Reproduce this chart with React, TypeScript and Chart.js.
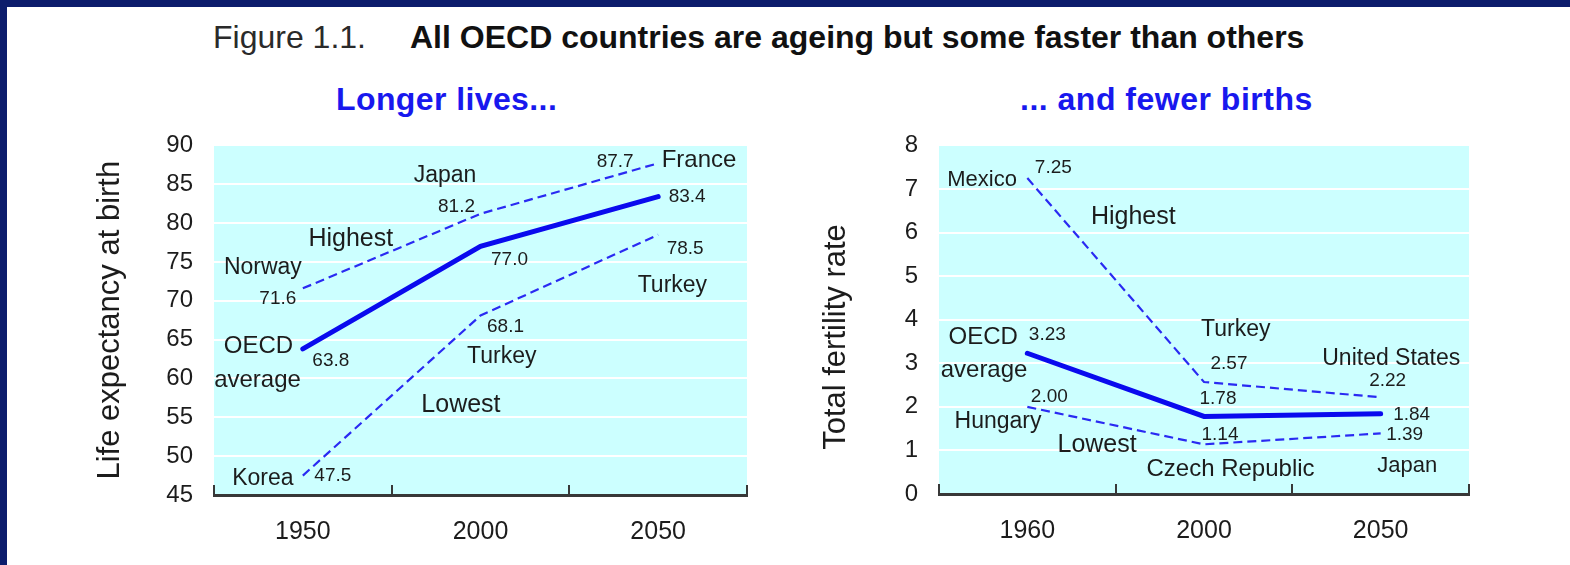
import React, { useEffect, useRef } from "react";
import { Chart, registerables } from "chart.js";

Chart.register(...registerables);

// ---------- data ----------
const lifeYears = ["1950", "2000", "2050"];
const lifeHighest = [71.6, 81.2, 87.7];
const lifeOecd = [63.8, 77.0, 83.4];
const lifeLowest = [47.5, 68.1, 78.5];
const lifeHighestCountries = ["Norway", "Japan", "France"];
const lifeLowestCountries = ["Korea", "Turkey", "Turkey"];
const lifeTickRange = [45, 90, 5];

const birthYears = ["1960", "2000", "2050"];
const birthHighest = [7.25, 2.57, 2.22];
const birthOecd = [3.23, 1.78, 1.84];
const birthLowest = [2.0, 1.14, 1.39];
const birthHighestCountries = ["Mexico", "Turkey", "United States"];
const birthLowestCountries = ["Hungary", "Czech Republic", "Japan"];
const birthTickRange = [0, 8, 1];

const figureLabel = "Figure 1.1.";
const figureTitle = "All OECD countries are ageing but some faster than others";
const leftSubtitle = "Longer lives...";
const rightSubtitle = "... and fewer births";
const leftAxisTitle = "Life expectancy at birth";
const rightAxisTitle = "Total fertility rate";

// ---------- styles ----------
const FONT = '"Liberation Sans", Arial, Helvetica, sans-serif';
const NAVY = "#0c1d6c";
const CYAN = "#ccffff";
const BLUE = "#0a0aee";
const BLUE_DASH = "#2a2af2";
const INK = "#1c1c1c";
const AXIS = "#383838";

type NameLabel = { text: string; x: number; y: number; size: number };
type ValueLabel = { datasetIndex: number; decimals: number; offsets: number[][] };

function makeAnnotate(values: ValueLabel[], names: NameLabel[], valueSize: number, yTitle?: { text: string; x: number; y: number; size: number }) {
  return {
    id: "annotate",
    afterDatasetsDraw(chart: any) {
      const { ctx } = chart;
      const xs = chart.scales.x;
      const ys = chart.scales.y;
      ctx.save();
      ctx.fillStyle = INK;
      ctx.textBaseline = "middle";
      ctx.textAlign = "center";
      ctx.font = `${valueSize}px ${FONT}`;
      values.forEach((v) => {
        const meta = chart.getDatasetMeta(v.datasetIndex);
        const data = chart.data.datasets[v.datasetIndex].data as number[];
        meta.data.forEach((pt: any, i: number) => {
          ctx.fillText(Number(data[i]).toFixed(v.decimals), pt.x + v.offsets[i][0], pt.y + v.offsets[i][1]);
        });
      });
      names.forEach((n) => {
        ctx.font = `${n.size}px ${FONT}`;
        ctx.fillText(n.text, xs.getPixelForValue(n.x), ys.getPixelForValue(n.y));
      });
      if (yTitle) {
        ctx.font = `${yTitle.size}px ${FONT}`;
        ctx.translate(yTitle.x, yTitle.y);
        ctx.rotate(-Math.PI / 2);
        ctx.fillText(yTitle.text, 0, 0);
      }
      ctx.restore();
    },
  };
}

const cyanBackground = {
  id: "cyanBackground",
  beforeDraw(chart: any) {
    const { ctx, chartArea } = chart;
    ctx.save();
    ctx.fillStyle = CYAN;
    ctx.fillRect(chartArea.left, chartArea.top, chartArea.right - chartArea.left, chartArea.bottom - chartArea.top);
    ctx.restore();
  },
};

function buildConfig(opts: {
  labels: string[];
  highest: number[];
  oecd: number[];
  lowest: number[];
  range: number[];
  yWidth: number;
  padding: { top: number; right: number; bottom: number; left: number };
  xHeight: number;
  yTitle?: any;
  plugins: any[];
}) {
  const dashed = {
    borderColor: BLUE_DASH,
    borderWidth: 2.2,
    borderDash: [9, 5],
    pointRadius: 0,
    tension: 0,
    fill: false,
  };
  return {
    type: "line",
    data: {
      labels: opts.labels,
      datasets: [
        { label: "Highest", data: opts.highest, ...dashed },
        { label: "Lowest", data: opts.lowest, ...dashed },
        {
          label: "OECD average",
          data: opts.oecd,
          borderColor: BLUE,
          borderWidth: 5,
          borderCapStyle: "round",
          pointRadius: 0,
          tension: 0,
          fill: false,
        },
      ],
    },
    options: {
      responsive: false,
      animation: false,
      devicePixelRatio: 1,
      layout: { padding: opts.padding },
      plugins: { legend: { display: false }, tooltip: { enabled: false }, title: { display: false } },
      scales: {
        x: {
          type: "category",
          offset: true,
          grid: {
            display: true,
            offset: true,
            drawOnChartArea: false,
            drawTicks: true,
            tickLength: -10,
            color: AXIS,
            lineWidth: 2,
          },
          border: { display: true, color: AXIS, width: 3 },
          ticks: { color: INK, font: { size: 25, family: FONT }, padding: 32, maxRotation: 0, autoSkip: false },
          afterFit: (s: any) => {
            s.height = opts.xHeight;
          },
        },
        y: {
          min: opts.range[0],
          max: opts.range[1],
          ticks: { stepSize: opts.range[2], color: INK, font: { size: 24, family: FONT }, padding: 21 },
          grid: { color: "#ffffff", lineWidth: 2, drawTicks: false },
          border: { display: false },
          title: opts.yTitle || { display: false },
          afterFit: (s: any) => {
            s.width = opts.yWidth;
          },
        },
      },
    },
    plugins: [cyanBackground, ...opts.plugins],
  };
}

const leftNames: NameLabel[] = [
  { text: lifeHighestCountries[0], x: -0.225, y: 74.2, size: 23 },
  { text: lifeHighestCountries[1], x: 0.8, y: 86.1, size: 23 },
  { text: lifeHighestCountries[2], x: 2.23, y: 88.1, size: 24 },
  { text: "Highest", x: 0.27, y: 77.9, size: 25 },
  { text: lifeLowestCountries[2], x: 2.08, y: 72.0, size: 23 },
  { text: "OECD", x: -0.25, y: 64.1, size: 24 },
  { text: "average", x: -0.255, y: 59.8, size: 24 },
  { text: lifeLowestCountries[1], x: 1.12, y: 62.8, size: 23 },
  { text: "Lowest", x: 0.89, y: 56.6, size: 25 },
  { text: lifeLowestCountries[0], x: -0.225, y: 47.1, size: 23 },
];

const leftValues: ValueLabel[] = [
  { datasetIndex: 0, decimals: 1, offsets: [[-25, 10], [-24, -7], [-43, -2]] },
  { datasetIndex: 1, decimals: 1, offsets: [[30, 0], [25, 11], [27, 14]] },
  { datasetIndex: 2, decimals: 1, offsets: [[28, 12], [29, 13], [29, 0]] },
];

const rightNames: NameLabel[] = [
  { text: birthHighestCountries[0], x: -0.256, y: 7.2, size: 22 },
  { text: "Highest", x: 0.6, y: 6.35, size: 25 },
  { text: birthHighestCountries[1], x: 1.18, y: 3.78, size: 23 },
  { text: "OECD", x: -0.25, y: 3.6, size: 24 },
  { text: "average", x: -0.245, y: 2.84, size: 24 },
  { text: birthHighestCountries[2], x: 2.06, y: 3.11, size: 23 },
  { text: birthLowestCountries[0], x: -0.166, y: 1.65, size: 23 },
  { text: "Lowest", x: 0.395, y: 1.12, size: 25 },
  { text: birthLowestCountries[1], x: 1.15, y: 0.56, size: 24 },
  { text: birthLowestCountries[2], x: 2.15, y: 0.65, size: 22 },
];

const rightValues: ValueLabel[] = [
  { datasetIndex: 0, decimals: 2, offsets: [[26, -10], [25, -18], [7, -16]] },
  { datasetIndex: 1, decimals: 2, offsets: [[22, -10], [16, -10], [24, 1]] },
  { datasetIndex: 2, decimals: 2, offsets: [[20, -18], [14, -18], [31, 1]] },
];

function LineChart({ config, width, height, left, top }: { config: any; width: number; height: number; left: number; top: number }) {
  const ref = useRef<HTMLCanvasElement | null>(null);
  useEffect(() => {
    if (!ref.current) return;
    const chart = new Chart(ref.current, config);
    return () => chart.destroy();
  }, [config]);
  return (
    <canvas
      ref={ref}
      width={width}
      height={height}
      style={{ position: "absolute", left, top, width, height, display: "block" }}
    />
  );
}

const leftConfig = buildConfig({
  labels: lifeYears,
  highest: lifeHighest,
  oecd: lifeOecd,
  lowest: lifeLowest,
  range: lifeTickRange,
  yWidth: 214,
  padding: { top: 27, right: 33, bottom: 0, left: 0 },
  xHeight: 65,
  yTitle: {
    display: true,
    text: leftAxisTitle,
    color: INK,
    font: { size: 31, family: FONT, weight: "normal" },
    padding: { top: 92, bottom: 0 },
  },
  plugins: [makeAnnotate(leftValues, leftNames, 19)],
});

const rightConfig = buildConfig({
  labels: birthYears,
  highest: birthHighest,
  oecd: birthOecd,
  lowest: birthLowest,
  range: birthTickRange,
  yWidth: 159,
  padding: { top: 26, right: 101, bottom: 0, left: 0 },
  xHeight: 66,
  plugins: [makeAnnotate(rightValues, rightNames, 19, { text: rightAxisTitle, x: 56, y: 227, size: 31 })],
});

export default function App() {
  useEffect(() => {
    document.body.style.margin = "0";
    document.body.style.overflow = "hidden";
  }, []);
  return (
    <div style={{ position: "absolute", left: 0, top: 0, width: 1570, height: 565, background: NAVY, overflow: "hidden", fontFamily: FONT }}>
      <div style={{ position: "absolute", left: 7, top: 7, right: 0, bottom: 0, background: "#ffffff" }} />
      <div style={{ position: "absolute", left: 213, top: 21, fontSize: 32, lineHeight: "32px", color: "#2a2a2a", whiteSpace: "nowrap" }}>
        {figureLabel}
      </div>
      <div style={{ position: "absolute", left: 410, top: 21, fontSize: 32, lineHeight: "32px", fontWeight: "bold", color: "#111", whiteSpace: "nowrap" }}>
        {figureTitle}
      </div>
      <div style={{ position: "absolute", left: 336, top: 83, fontSize: 32, lineHeight: "32px", fontWeight: "bold", color: "#1818ee", letterSpacing: "0.4px", whiteSpace: "nowrap" }}>
        {leftSubtitle}
      </div>
      <div style={{ position: "absolute", left: 1020, top: 83, fontSize: 32, lineHeight: "32px", fontWeight: "bold", color: "#1818ee", letterSpacing: "0.5px", whiteSpace: "nowrap" }}>
        {rightSubtitle}
      </div>
      <LineChart config={leftConfig} width={780} height={450} left={0} top={110} />
      <LineChart config={rightConfig} width={790} height={450} left={780} top={110} />
    </div>
  );
}
